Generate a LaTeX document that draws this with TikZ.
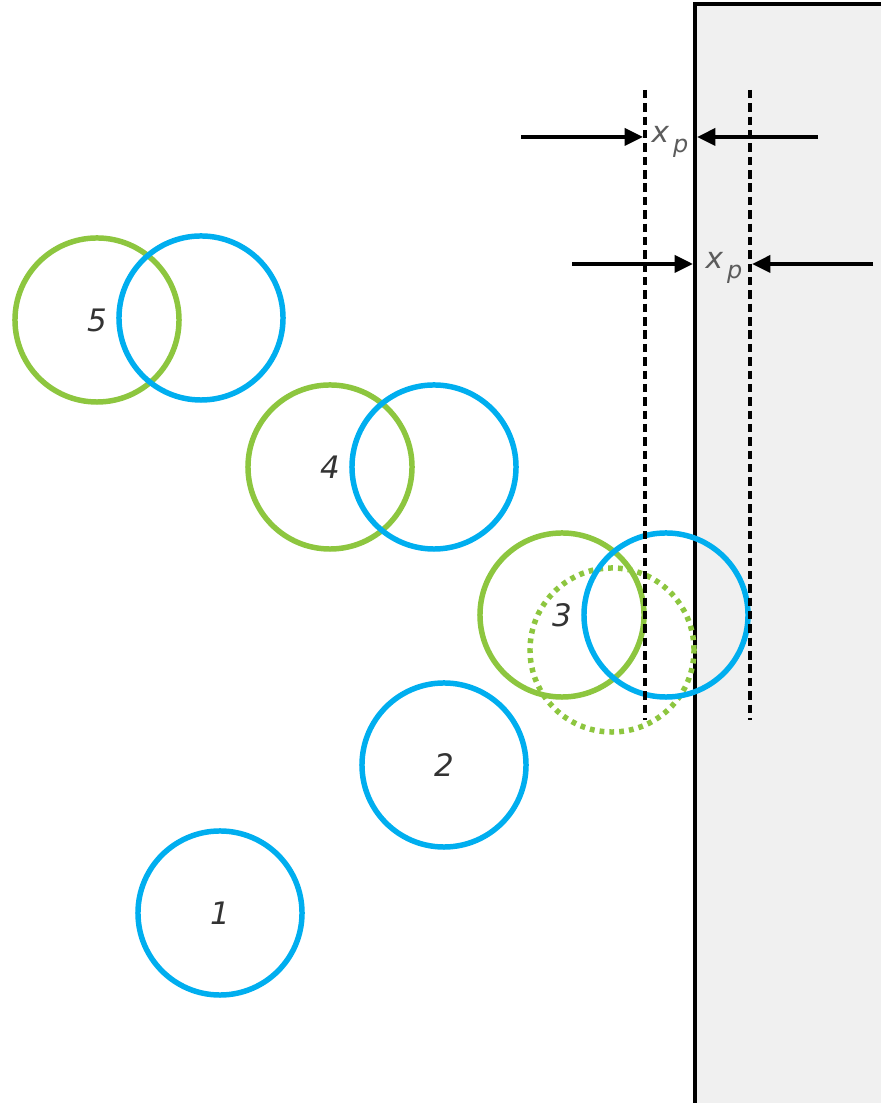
\documentclass[tikz,border=0pt]{standalone}
\usepackage{fontspec}
\setmainfont{DejaVu Sans}
\usepackage{xcolor}
\usepackage{tikz}
\definecolor{partblue}{RGB}{0, 174, 239}
\definecolor{partgreen}{RGB}{141, 198, 63}
\definecolor{wallgray}{RGB}{240, 240, 240}
\definecolor{labelgray}{RGB}{51, 51, 51}
\usetikzlibrary{arrows.meta,positioning,calc}

\begin{document}
\begin{tikzpicture}[x=0.025cm, y=0.025cm]
    % Define styles
    \tikzstyle{before} = [circle, draw=partgreen, line width=3.9pt, minimum size=4.1cm, inner sep=0pt,
                          font=\fontsize{22}{22}\selectfont\itshape, text=labelgray]
    \tikzstyle{after} = [circle, draw=partblue, line width=3.9pt, minimum size=4.1cm, inner sep=0pt,
                         font=\fontsize{22}{22}\selectfont\itshape, text=labelgray]
    \tikzstyle{ghost} = [before, dash pattern=on 3.4pt off 3.6pt]
    \tikzstyle{plane} = [black, line width=2.5pt, dash pattern=on 6pt off 3.5pt]
    \tikzstyle{push} = [-{Triangle[length=13pt, width=12pt]}, line width=2.7pt, black]
    \tikzstyle{depth} = [font=\fontsize{21}{21}\selectfont\itshape, text=labelgray!80, inner sep=0pt]

    \useasboundingbox (0,0) rectangle (880,1103);

    % Wall
    \fill[wallgray] (695,-10) rectangle (890,1099);
    \draw[line width=2.5pt] (695,-10) -- (695,1099) -- (890,1099);

    % Nodes
    \node[after] (p1) at (220,190) {1};
    \node[after] (p2) at (444,338) {2};
    \node[ghost] (p3d) at (612,453) {};
    \node[before] (p3a) at (562,488) {3};
    \node[after] (p3b) at (666,488) {};
    \node[before] (p4a) at (330,636) {4};
    \node[after] (p4b) at (434,636) {};
    \node[before] (p5a) at (97,783) {5};
    \node[after] (p5b) at (201,785) {};

    % Planes
    \coordinate (inTop) at (645,1013);
    \coordinate (inBot) at (645,383);
    \coordinate (outTop) at (750,1013);
    \coordinate (outBot) at (750,383);
    \draw[plane] (inTop) -- (inBot);
    \draw[plane] (outTop) -- (outBot);

    % Connections
    \coordinate (a1) at (521,966);
    \coordinate (a1e) at (643,966);
    \coordinate (b1) at (818,966);
    \coordinate (b1e) at (697,966);
    \coordinate (a2) at (572,839);
    \coordinate (a2e) at (693,839);
    \coordinate (b2) at (873,839);
    \coordinate (b2e) at (752,839);
    \draw[push] (a1) -- (a1e);
    \draw[push] (b1) -- (b1e);
    \draw[push] (a2) -- (a2e);
    \draw[push] (b2) -- (b2e);

    % Annotations
    \node[depth] (xp1) at (670,961) {x\raisebox{-0.6ex}{\fontsize{17}{17}\selectfont\,p}};
    \node[depth] (xp2) at (724,835) {x\raisebox{-0.6ex}{\fontsize{17}{17}\selectfont\,p}};
\end{tikzpicture}
\end{document}
